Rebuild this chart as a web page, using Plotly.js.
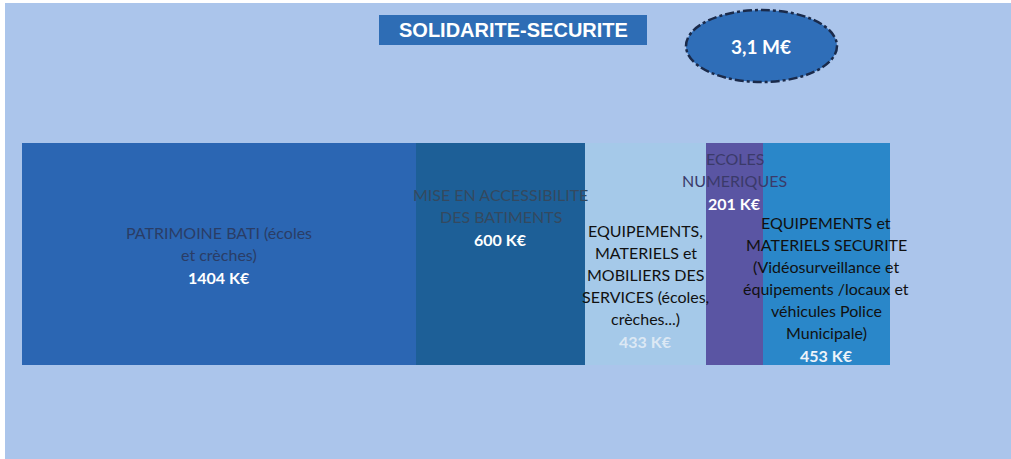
<!DOCTYPE html>
<html>
<head>
<meta charset="utf-8">
<script src="https://cdn.plot.ly/plotly-3.0.1.min.js"></script>
<style>html,body{margin:0;padding:0;background:#fff;}#chart{width:1011px;height:459px;}</style>
</head>
<body>
<div id="chart"></div>
<script>
// ---- data ----
const categories = ["PATRIMOINE BATI (écoles et crèches)", "MISE EN ACCESSIBILITE DES BATIMENTS", "EQUIPEMENTS, MATERIELS et MOBILIERS DES SERVICES (écoles, crèches...)", "ECOLES NUMERIQUES", "EQUIPEMENTS et MATERIELS SECURITE (Vidéosurveillance et équipements /locaux et véhicules Police Municipale)"];
const valuesK = [1404, 600, 433, 201, 453];
const labelLines = [
  ["PATRIMOINE BATI (écoles", "et crèches)"],
  ["MISE EN ACCESSIBILITE", "DES BATIMENTS"],
  ["EQUIPEMENTS,", "MATERIELS et", "MOBILIERS DES", "SERVICES (écoles,", "crèches...)"],
  ["ECOLES", "NUMERIQUES"],
  ["EQUIPEMENTS et", "MATERIELS SECURITE", "(Vidéosurveillance et", "équipements /locaux et", "véhicules Police", "Municipale)"]
];
const valueLabels = ["1404 K€", "600 K€", "433 K€", "201 K€", "453 K€"];
const chartTitle = "SOLIDARITE-SECURITE";
const totalLabel = "3,1 M€";

// ---- styles ----
const barColors = ["#2B66B3", "#1D5F97", "#A5C9E9", "#5A55A3", "#2A87C9"];
const labelColors = ["#2A3D66", "#34495F", "#111111", "#3A3A6A", "#111111"];
const valueColors = ["#FFFFFF", "#FFFFFF", "#DCE8F4", "#FFFFFF", "#EEF4FA"];
const firstLinePx = [232, 194, 230, 158, 222];
const lineStep = 22;
const W = 1011, H = 459;
const mL = 22, mR = 121, mT = 143, mB = 94;
const plotW = W - mL - mR, plotH = H - mT - mB;
const px2x = p => (p - mL) / plotW;
const py2y = p => (H - mB - p) / plotH;

// bar geometry from data
const total = valuesK.reduce((a, b) => a + b, 0);
const starts = [];
let acc = 0;
valuesK.forEach(v => { starts.push(acc); acc += v; });
const centers = valuesK.map((v, i) => starts[i] + v / 2);
const heights = valuesK.map(() => 1);

const trace = {
  type: "bar",
  x: centers,
  y: heights,
  width: valuesK,
  marker: {color: barColors, line: {width: 0}},
  hoverinfo: "skip",
  text: categories,
  textposition: "none"
};

const font = "Lato, 'Open Sans', sans-serif";
const annotations = [];
labelLines.forEach((lines, i) => {
  lines.forEach((ln, j) => {
    annotations.push({
      x: centers[i], xref: "x", yref: "paper",
      y: py2y(firstLinePx[i] + j * lineStep),
      text: ln, showarrow: false, xanchor: "center", yanchor: "middle",
      font: {family: font, size: 16, color: labelColors[i]}
    });
  });
  annotations.push({
    x: centers[i], xref: "x", yref: "paper",
    y: py2y(firstLinePx[i] + lines.length * lineStep + 1),
    text: "<b>" + valueLabels[i] + "</b>", showarrow: false, xanchor: "center", yanchor: "middle",
    font: {family: font, size: 16, color: valueColors[i]}
  });
});
// title
annotations.push({
  x: px2x(513), y: py2y(30), xref: "paper", yref: "paper",
  text: "<b>" + chartTitle + "</b>", showarrow: false, xanchor: "center", yanchor: "middle",
  font: {family: "Liberation Sans, Arial, sans-serif", size: 20, color: "#FFFFFF"}
});
// total ellipse label
annotations.push({
  x: px2x(761), y: py2y(46), xref: "paper", yref: "paper",
  text: "<b>" + totalLabel + "</b>", showarrow: false, xanchor: "center", yanchor: "middle",
  font: {family: font, size: 19, color: "#FFFFFF"}
});

const shapes = [
  // white scan edges
  {type: "rect", xref: "paper", yref: "paper", x0: px2x(0), x1: px2x(5), y0: py2y(H), y1: py2y(0), fillcolor: "#FFFFFF", line: {width: 0}, layer: "above"},
  {type: "rect", xref: "paper", yref: "paper", x0: px2x(0), x1: px2x(W), y0: py2y(3), y1: py2y(0), fillcolor: "#FFFFFF", line: {width: 0}, layer: "above"},
  // title box
  {type: "rect", xref: "paper", yref: "paper", x0: px2x(379), x1: px2x(647), y0: py2y(45), y1: py2y(15), fillcolor: "#2E6DB5", line: {width: 0}, layer: "below"},
  // ellipse
  {type: "circle", xref: "paper", yref: "paper", x0: px2x(686), x1: px2x(837), y0: py2y(82), y1: py2y(10), fillcolor: "#2F6EB8", line: {color: "#1A2A4A", width: 2.5, dash: "dashdot"}, layer: "below"}
];

const layout = {
  width: W, height: H,
  margin: {l: mL, r: mR, t: mT, b: mB, pad: 0},
  paper_bgcolor: "#ABC5EB",
  plot_bgcolor: "#ABC5EB",
  showlegend: false,
  bargap: 0,
  xaxis: {range: [0, total], visible: false, fixedrange: true},
  yaxis: {range: [0, 1], visible: false, fixedrange: true},
  annotations: annotations,
  shapes: shapes
};

Plotly.newPlot("chart", [trace], layout, {staticPlot: true, displayModeBar: false});
</script>
</body>
</html>
